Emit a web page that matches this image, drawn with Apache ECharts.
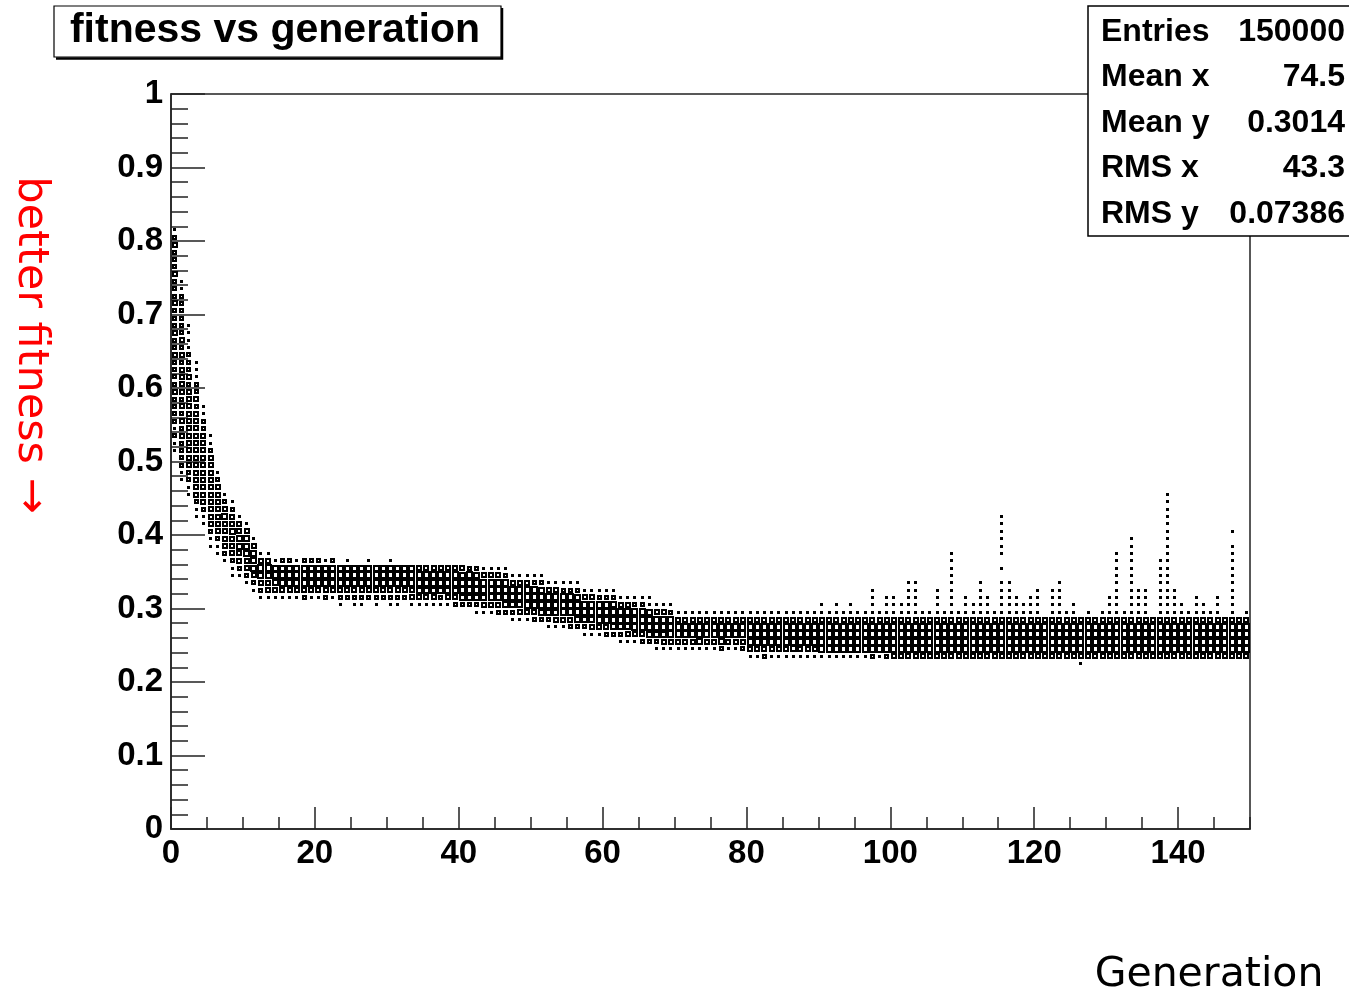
<!DOCTYPE html>
<html lang="en">
<head>
    <meta charset="UTF-8">
    <title>fitness vs generation</title>
    <style>
        body {
            margin: 0;
            padding: 0;
            background-color: #fff;
        }
        #main {
            width: 1349px;
            height: 997px;
        }
    </style>
    <script src="https://cdn.jsdelivr.net/npm/echarts@6/dist/echarts.min.js"></script>
</head>
<body>
<div id="main"></div>
<script>
	// one entry per generation (0..149): lowest occupied fitness bin (bin k = k/100 .. (k+1)/100)
	var binStart = [
		51, 47, 45, 42, 41, 38, 37, 36, 34, 34,
		33, 32, 31, 31, 31, 31, 31, 31, 31, 31,
		31, 31, 31, 30, 30, 30, 30, 30, 30, 30,
		30, 30, 30, 30, 30, 30, 30, 30, 30, 30,
		30, 30, 29, 29, 29, 29, 29, 28, 28, 28,
		28, 28, 27, 27, 27, 27, 27, 26, 26, 26,
		26, 26, 25, 25, 25, 25, 25, 24, 24, 24,
		24, 24, 24, 24, 24, 24, 24, 24, 24, 24,
		23, 23, 23, 23, 23, 23, 23, 23, 23, 23,
		23, 23, 23, 23, 23, 23, 23, 23, 23, 23,
		23, 23, 23, 23, 23, 23, 23, 23, 23, 23,
		23, 23, 23, 23, 23, 23, 23, 23, 23, 23,
		23, 23, 23, 23, 23, 23, 22, 23, 23, 23,
		23, 23, 23, 23, 23, 23, 23, 23, 23, 23,
		23, 23, 23, 23, 23, 23, 23, 23, 23, 23
	];
	// box size per bin going up from binStart (0 = empty, 6 = largest box)
	var binSizes = [
		"1121222232222322322232223222321", "1122223232323333232322222211", "112233333433333232221111", "1123334343433332322111", "11233444343332211",
		"1123344443433211", "112344444321", "1234445321", "11234454321", "123455431",
		"123455531", "12455531", "1245641", "1345641", "135651",
		"136652", "136652", "136651", "236652", "136652",
		"136652", "236651", "136652", "1246650", "0246651",
		"1246650", "1246650", "0246651", "1246650", "0246650",
		"1246651", "1246650", "0246650", "1346650", "1356630",
		"1356630", "1356630", "1256640", "1356630", "2456630",
		"2566530", "2566620", "1256652", "1356641", "1366631",
		"2466631", "2566621", "1256641", "1356631", "1366631",
		"2466621", "2566521", "1256641", "1356631", "1366621",
		"2466621", "2566521", "1256641", "1356631", "1366621",
		"2466621", "2566521", "1256641", "1356631", "1366621",
		"2466621", "2566511", "1256641", "1356631", "1366621",
		"146641", "146641", "146631", "156641", "146641",
		"146641", "256641", "146641", "146631", "246641",
		"1466641", "1466641", "2466641", "1466641", "1466631",
		"1466641", "1566641", "1466641", "1466631", "1466641",
		"16666411", "1666641", "16666411", "1666641", "16666411",
		"1666641", "1666641", "2666641111", "1666641", "266664111",
		"466664111", "46666411", "46666411111", "46666411111", "4666641",
		"4666641", "4666641111", "4666641", "466664111111111", "4666641",
		"466664111", "46666411", "46666411111", "466664111", "4666641",
		"46666411111010111111", "46666411111", "466664111", "46666411", "466664111",
		"4666641111", "466664", "4666641111", "46666411111", "4666641",
		"46666411", "1466664", "4666641", "466664", "4666641",
		"466664111", "466664111111111", "4666641", "46666411111111111", "4666641111",
		"4666641111", "466664", "46666411111111", "46666411111111111111111", "4666641111",
		"46666411", "4666641", "466664111", "46666411", "4666641",
		"466664111", "466664", "466664111111111101", "466664", "4666641"
	];
	var statNames = ['Entries', 'Mean x', 'Mean y', 'RMS x', 'RMS y'];
	var statValues = ['150000', '74.5', '0.3014', '43.3', '0.07386'];

	// box side as a fraction of the cell for each size code
	var boxScale = [0, 0.42, 0.35, 0.5, 0.6, 0.68, 0.75];

	var cells = [];
	for (var g = 0; g < binStart.length; g++) {
		var s = binSizes[g];
		for (var j = 0; j < s.length; j++) {
			var d = parseInt(s.charAt(j), 10);
			if (d > 0) {
				cells.push([g, binStart[g] + j, d]);
			}
		}
	}

	var chart = echarts.init(document.getElementById('main'));
	var tickFont = {color: '#000', fontFamily: 'Liberation Sans', fontWeight: 'bold', fontSize: 33};

	var option = {
		backgroundColor: '#fff',
		animation: false,
		grid: {
			left: 171, top: 94, right: 99, bottom: 168,
			show: true,
			borderColor: '#222',
			borderWidth: 1.5,
			backgroundColor: 'transparent'
		},
		xAxis: [{
			type: 'value', min: 0, max: 150, interval: 20,
			axisLine: {lineStyle: {color: '#222', width: 1.5}},
			axisTick: {inside: true, length: 22, lineStyle: {color: '#222', width: 1.5}},
			axisLabel: Object.assign({margin: 8, showMaxLabel: false}, tickFont),
			splitLine: {show: false}
		}, {
			type: 'value', min: 0, max: 150, interval: 5, position: 'bottom', offset: 0,
			axisLine: {show: false},
			axisTick: {inside: true, length: 12, lineStyle: {color: '#222', width: 1.5}},
			axisLabel: {show: false},
			splitLine: {show: false}
		}],
		yAxis: {
			type: 'value', min: 0, max: 1, interval: 0.1,
			axisLine: {lineStyle: {color: '#222', width: 1.5}},
			axisTick: {inside: true, length: 34, lineStyle: {color: '#222', width: 1.5}},
			minorTick: {show: true, splitNumber: 5, length: 17, lineStyle: {color: '#222', width: 1.5}},
			axisLabel: Object.assign({margin: 8}, tickFont),
			splitLine: {show: false}
		},
		series: [{
			type: 'custom',
			xAxisIndex: 0,
			yAxisIndex: 0,
			data: cells,
			clip: true,
			renderItem: function (params, api) {
				var c = api.coord([api.value(0) + 0.5, (api.value(1) + 0.5) / 100]);
				var size = api.size([1, 0.01]);
				var d = api.value(2);
				var w = Math.max(2, Math.round(size[0] * boxScale[d]));
				var h = Math.max(2, Math.round(size[1] * boxScale[d]));
				var x = Math.round(c[0] - w / 2);
				var y = Math.round(c[1] - h / 2);
				if (d === 1) {
					return {type: 'rect', shape: {x: x, y: y, width: w, height: h}, style: {fill: '#000', stroke: null}};
				}
				return {
					type: 'rect',
					shape: {x: x, y: y, width: w, height: h},
					style: {fill: 'none', stroke: '#000', lineWidth: 2}
				};
			}
		}],
		graphic: [
			// title box with shadow
			{type: 'polyline', z: 100, shape: {points: [[56, 58.5], [502, 58.5], [502, 8]]}, style: {stroke: '#000', lineWidth: 2.5, fill: null}},
			{type: 'rect', z: 100, shape: {x: 54, y: 6, width: 447, height: 51}, style: {fill: '#fff', stroke: '#000', lineWidth: 1.2}},
			{type: 'text', z: 101, x: 275, y: 31, style: {text: 'fitness vs generation', font: 'bold 41px "Liberation Sans"', fill: '#000', align: 'center', verticalAlign: 'middle', textAlign: 'center', textVerticalAlign: 'middle'}},
			// stats box
			{type: 'rect', z: 100, shape: {x: 1088, y: 6, width: 280, height: 230}, style: {fill: '#fff', stroke: '#000', lineWidth: 1.5}}
		].concat(statNames.map(function (name, i) {
			return {type: 'text', z: 101, x: 1101, y: 32 + i * 45.5, style: {text: name, font: 'bold 32px "Liberation Sans"', fill: '#000', align: 'left', verticalAlign: 'middle', textAlign: 'left', textVerticalAlign: 'middle'}};
		})).concat(statValues.map(function (val, i) {
			return {type: 'text', z: 101, x: 1345, y: 32 + i * 45.5, style: {text: val, font: 'bold 32px "Liberation Sans"', fill: '#000', align: 'right', verticalAlign: 'middle', textAlign: 'right', textVerticalAlign: 'middle'}};
		})).concat([
			{type: 'text', z: 101, x: 30, y: 345, rotation: -Math.PI / 2, style: {text: 'better fitness \u2192', font: '43px "DejaVu Sans"', fill: '#f00', align: 'center', verticalAlign: 'middle', textAlign: 'center', textVerticalAlign: 'middle'}},
			{type: 'text', z: 101, x: 1209, y: 975, style: {text: 'Generation', font: '41px "DejaVu Sans"', fill: '#000', align: 'center', verticalAlign: 'middle', textAlign: 'center', textVerticalAlign: 'middle'}}
		])
	};
	chart.setOption(option);
    window.onresize = chart.resize;
</script>
</body>
</html>
